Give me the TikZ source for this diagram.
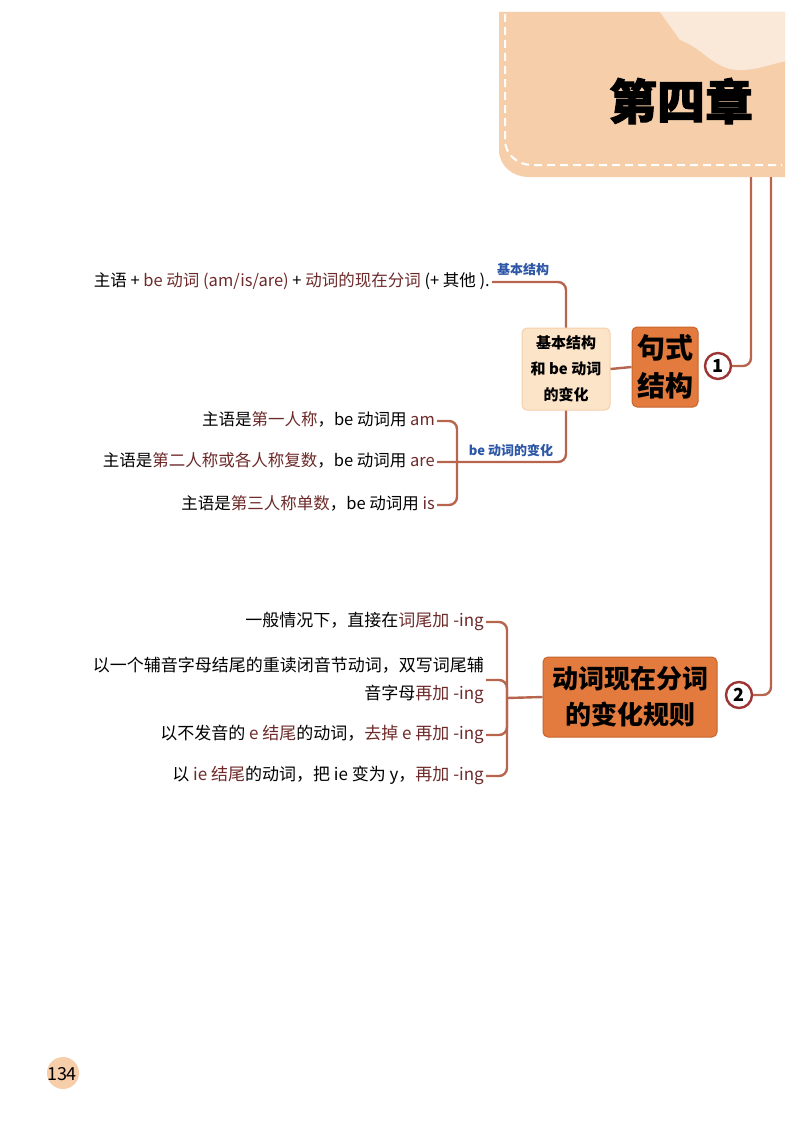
\documentclass[tikz,border=0pt]{standalone}
\usepackage{fontspec}
\setmainfont{Noto Sans CJK SC}
\newfontfamily\titlefont{Noto Sans CJK SC}[BoldFeatures={FakeBold=2}]
\usetikzlibrary{positioning}
\definecolor{peach}{HTML}{F6CFAA}
\definecolor{peachlt}{HTML}{FCE4C9}
\definecolor{orangebox}{HTML}{E27B3D}
\definecolor{orangeedge}{HTML}{C8652E}
\definecolor{conn}{HTML}{B8654E}
\definecolor{tbrown}{HTML}{6E2A2A}
\definecolor{lblue}{HTML}{2D57A6}
\definecolor{circedge}{HTML}{9E3535}
\newcommand{\brn}[1]{\textcolor{tbrown}{#1}}
\tikzset{
  conline/.style={draw=conn, line width=2.4pt, rounded corners=8pt},
  txt/.style={font=\fontsize{16.5}{28}\selectfont, inner sep=2pt, text height=12pt, text depth=3pt},
  txtb/.style={font=\fontsize{17}{28}\selectfont, inner sep=2pt, text height=12pt, text depth=3pt},
  lbl/.style={font=\bfseries\fontsize{13}{15}\selectfont, text=lblue, inner sep=1pt},
  mainbox/.style={fill=orangebox, draw=orangeedge, line width=1pt, rounded corners=5pt, align=center, font=\bfseries},
  subbox/.style={fill=peachlt, draw=peach, line width=1pt, rounded corners=5pt, align=center, font=\bfseries\fontsize{15}{26}\selectfont},
  numcirc/.style={circle, draw=circedge, fill=white, line width=2.4pt, minimum size=26pt, inner sep=0pt, font=\bfseries\fontsize{18}{18}\selectfont}
}
\begin{document}
\begin{tikzpicture}[x=1pt, y=-1pt]
\useasboundingbox (0,0) rectangle (800,1132);
\fill[white] (0,0) rectangle (800,1132);
% header banner
\fill[peach] (499,12) -- (785,12) -- (785,177) -- (528,177) to[out=180,in=-90] (499,150) -- cycle;
\fill[white, opacity=0.55] (660,12) -- (800,12) -- (800,60) to[out=180,in=0] (740,70) to[out=180,in=-20] (680,40) -- cycle;
\draw[white, line width=2pt, dashed, dash pattern=on 8pt off 5pt] (505,14) -- (505,140) to[out=-90,in=180] (532,165) -- (782,165);
\node[font=\titlefont\bfseries\fontsize{48}{48}\selectfont, inner sep=0pt] (title) at (681,101) {第四章};
% trunk lines
\coordinate (top1) at (751,177);
\coordinate (top2) at (771,177);
\node[numcirc] (c1) at (718,366) {1};
\node[numcirc] (c2) at (739,695) {2};
\draw[conline] (top1) |- (c1.east);
\draw[conline] (top2) |- (c2.east);
% section 1
\node[mainbox, minimum width=66pt, minimum height=80pt, font=\bfseries\fontsize{28}{38}\selectfont] (m1) at (665,367) {句式\\结构};
\node[subbox, minimum width=88pt, minimum height=82pt] (sub) at (566,369) {基本结构\\和 be 动词\\的变化};
\draw[conline] (sub.east) -- (m1.west);
\node[txt, anchor=east] (s1) at (492,282) {主语 + \brn{be 动词 (am/is/are)} + \brn{动词的现在分词} (+ 其他 ).};
\draw[conline] (sub.north) |- (s1.east);
\node[lbl, anchor=south] (l1) at (523,277) {基本结构};
\node[txt, anchor=east] (t1) at (437,421) {主语是\brn{第一人称}，be 动词用 \brn{am}};
\node[txt, anchor=east] (t2) at (437,462) {主语是\brn{第二人称或各人称复数}，be 动词用 \brn{are}};
\node[txt, anchor=east] (t3) at (437,505) {主语是\brn{第三人称单数}，be 动词用 \brn{is}};
\coordinate (b1) at (457,462);
\draw[conline] (t1.east) -| (b1) |- (t3.east);
\draw[conline] (t2.east) -- (b1) -| (sub.south);
\node[lbl, anchor=south] (l2) at (511,458) {be 动词的变化};
% section 2
\node[mainbox, minimum width=174pt, minimum height=80pt, font=\bfseries\fontsize{26}{36}\selectfont] (m2) at (630,697) {动词现在分词\\的变化规则};
\coordinate (b2) at (507,698);
\node[txtb, anchor=east] (u1) at (486,622) {一般情况下，直接在\brn{词尾加 -ing}};
\node[font=\fontsize{17}{28}\selectfont, inner sep=2pt, anchor=east, align=right] (u2) at (486,680) {以一个辅音字母结尾的重读闭音节动词，双写词尾辅\\音字母\brn{再加 -ing}};
\node[txtb, anchor=east] (u3) at (486,735) {以不发音的 \brn{e 结尾}的动词，\brn{去掉 e 再加 -ing}};
\node[txtb, anchor=east] (u4) at (486,776) {以 \brn{ie 结尾}的动词，把 ie 变为 y，\brn{再加 -ing}};
\draw[conline] (u1.east) -| (b2) |- (u4.east);
\draw[conline] (u2.east) -| (b2);
\draw[conline] (u3.east) -| (b2);
\draw[conline] (b2) -- (m2.west);
% page number
\fill[peach] (63,1073) circle (16);
\node[font=\fontsize{18}{18}\selectfont, inner sep=0pt] (pg) at (62,1074) {134};
\end{tikzpicture}
\end{document}
